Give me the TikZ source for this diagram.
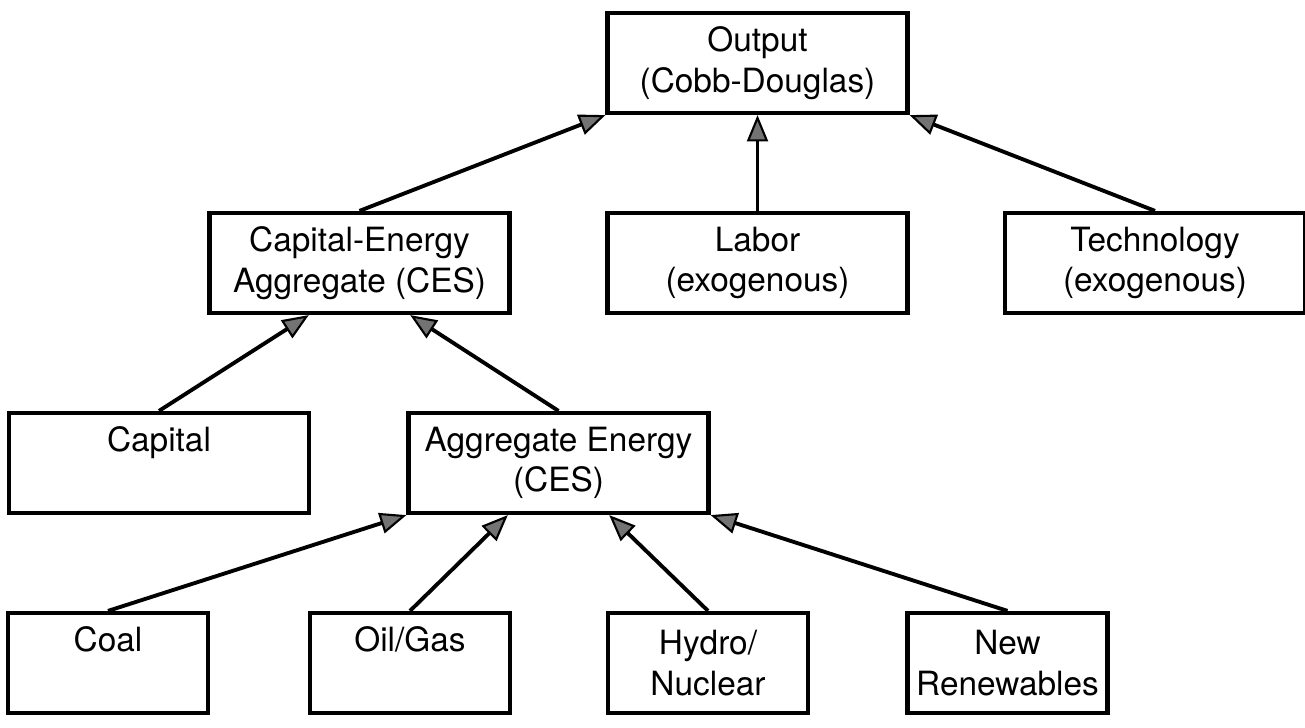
\documentclass[tikz,border=0pt]{standalone}
\usepackage{fontspec}
\setmainfont{TeX Gyre Heros}
\usetikzlibrary{arrows.meta,calc}

\tikzset{
  bigbox/.style={draw, line width=2.4pt, minimum width=6cm, minimum height=2cm, inner sep=0pt, align=center, font=\fontsize{19}{23}\selectfont},
  smallbox/.style={bigbox, minimum width=4cm},
  feed/.style={line width=2.2pt, -{Triangle[length=15pt,width=12pt,fill=black!55,line width=1.2pt]}}
}

\begin{document}
\begin{tikzpicture}
\useasboundingbox (0,0) rectangle (26.1,14.54);

\node[bigbox] (output) at (15.15,13.28) {Output\\(Cobb-Douglas)};
\node[bigbox] (capen) at (7.19,9.28) {Capital-Energy\\Aggregate (CES)};
\node[bigbox] (labor) at (15.15,9.28) {Labor\\(exogenous)};
\node[bigbox] (tech) at (23.1,9.28) {Technology\\(exogenous)};
\node[bigbox] (capital) at (3.18,5.28) {Capital\\\phantom{(}};
\node[bigbox] (aggen) at (11.17,5.28) {Aggregate Energy\\(CES)};
\node[smallbox] (coal) at (2.16,1.28) {Coal\\\phantom{(}};
\node[smallbox] (oilgas) at (8.2,1.28) {Oil/Gas\\\phantom{(}};
\node[smallbox] (hydro) at (14.16,1.28) {Hydro/\\Nuclear};
\node[smallbox] (newren) at (20.15,1.28) {New\\Renewables};

\draw[feed] (capen.north) -- (output.south west);
\draw[feed] (labor.north) -- (output.south);
\draw[feed] (tech.north) -- (output.south east);
\draw[feed] (capital.north) -- ($(capen.south west)!1/3!(capen.south east)$);
\draw[feed] (aggen.north) -- ($(capen.south west)!2/3!(capen.south east)$);
\draw[feed] (coal.north) -- (aggen.south west);
\draw[feed] (oilgas.north) -- ($(aggen.south west)!1/3!(aggen.south east)$);
\draw[feed] (hydro.north) -- ($(aggen.south west)!2/3!(aggen.south east)$);
\draw[feed] (newren.north) -- (aggen.south east);
\end{tikzpicture}
\end{document}
